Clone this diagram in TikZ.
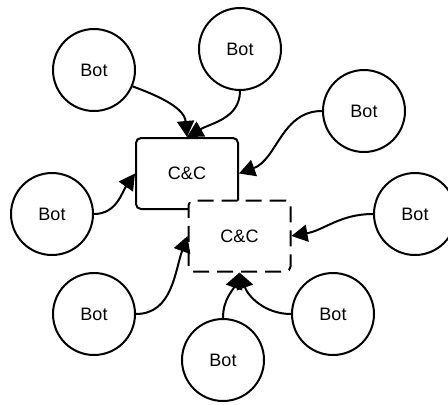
\documentclass[tikz,border=0pt]{standalone}
\usepackage{fontspec}
\setmainfont{Liberation Sans}
\usetikzlibrary{arrows.meta}
\begin{document}
\begin{tikzpicture}[x=1pt, y=-1pt, line width=2pt,
  bot/.style={circle, draw, minimum size=82pt, inner sep=0pt, font=\fontsize{18}{20}\selectfont},
  cc/.style={rectangle, draw, fill=white, rounded corners=5pt, minimum width=102pt, minimum height=71pt, font=\fontsize{18}{20}\selectfont},
  link/.style={-{Triangle[length=16pt,width=17pt]}}]
\useasboundingbox (0,0) rectangle (448,405);
\node[cc] (cc0) at (187,173.5){C\&C};
\node[cc, dash pattern=on 16pt off 8pt] (cc1) at (239.5,236){C\&C};
\node[bot] (bot0) at (94,70){Bot};
\node[bot] (bot1) at (240,49){Bot};
\node[bot] (bot2) at (364,111){Bot};
\node[bot] (bot3) at (52,214){Bot};
\node[bot] (bot4) at (94,314){Bot};
\node[bot] (bot5) at (415,214){Bot};
\node[bot] (bot6) at (223,360){Bot};
\node[bot] (bot7) at (333,314){Bot};
\draw[link](bot0.-23) to[out=-20, in=95] (cc0.north);
\draw[link](bot1.south) to[out=-90, in=30] (cc0.north);
\draw[link](bot2.west) to[out=180, in=20] (cc0.east);
\draw[link](bot3.east) to[out=0, in=235] (cc0.west);
\draw[link](bot4.east) to[out=0, in=250] (cc1.west);
\draw[link](bot5.west) to[out=180, in=10] (cc1.east);
\draw[link](bot6.north) to[out=90, in=-110] (cc1.south);
\draw[link](bot7.west) to[out=180, in=-70] (cc1.south);
\end{tikzpicture}
\end{document}
